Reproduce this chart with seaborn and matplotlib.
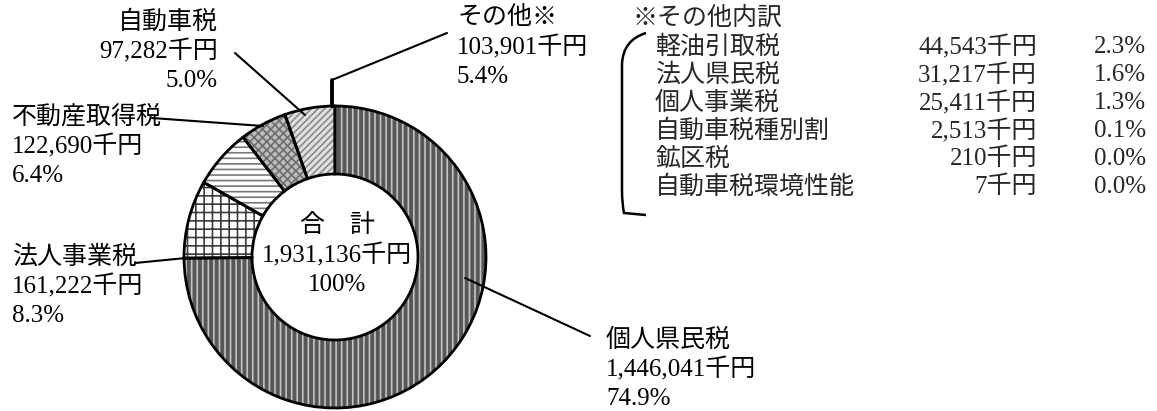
import matplotlib
matplotlib.use("Agg")
import matplotlib.pyplot as plt
from matplotlib.patches import Rectangle, PathPatch
from matplotlib.path import Path
import seaborn as sns

# --- data ---
tax_names = ["個人県民税", "法人事業税", "不動産取得税", "自動車税", "その他※"]
tax_amounts = [1446041, 161222, 122690, 97282, 103901]
tax_amount_labels = ["1,446,041千円", "161,222千円", "122,690千円", "97,282千円", "103,901千円"]
tax_pct_labels = ["74.9%", "8.3%", "6.4%", "5.0%", "5.4%"]

total_label = ["合\u3000計", "1,931,136千円", "100%"]

other_title = "※その他内訳"
other_names = ["軽油引取税", "法人県民税", "個人事業税", "自動車税種別割", "鉱区税", "自動車税環境性能割"]
other_amounts = ["44,543千円", "31,217千円", "25,411千円", "2,513千円", "210千円", "7千円"]
other_pcts = ["2.3%", "1.6%", "1.3%", "0.1%", "0.0%", "0.0%"]

# --- style ---
sns.set_theme(style="white")
plt.rcParams["font.family"] = ["Liberation Serif", "Noto Sans CJK JP"]
plt.rcParams["hatch.linewidth"] = 1.2

W, H = 1157, 411
FS = 18
LINE = 29.5


def Y(y):
    # pixel row (from top) -> data y
    return H - y


fig = plt.figure(figsize=(W / 100, H / 100), dpi=100)
ax = fig.add_axes([0, 0, 1, 1])

cx, cy, R, r_in = 335, 257, 151, 83

faces = ["#585858", "white", "white", "#bdbdbd", "#e0e0e0"]
hatch_cols = ["#c4c4c4", "#3c3c3c", "#787878", "#6e6e6e", "#8a8a8a"]
hatches = ["|||", "++", "---", "xxxx", "/////"]

wedges, _ = ax.pie(tax_amounts, startangle=90, counterclock=False,
                   center=(cx, Y(cy)), radius=R, frame=True,
                   wedgeprops=dict(width=R - r_in, linewidth=0))
for w, fc, hc, h in zip(wedges, faces, hatch_cols, hatches):
    w.set_facecolor(fc)
    w.set_edgecolor(hc)
    w.set_hatch(h)

# outlines on top
ax.pie(tax_amounts, startangle=90, counterclock=False,
       center=(cx, Y(cy)), radius=R, frame=True,
       wedgeprops=dict(width=R - r_in, fill=False, edgecolor="black", linewidth=2))

ax.set_xlim(0, W)
ax.set_ylim(0, H)
ax.set_aspect("auto")
ax.axis("off")

# --- slice labels ---
def block(x, y0, lines, ha="left"):
    for i, s in enumerate(lines):
        ax.text(x, Y(y0 + i * LINE), s, fontsize=FS, ha=ha, va="center", color="black")

label_pos = {
    "個人県民税": (606, 340, "left"),
    "法人事業税": (12, 257, "left"),
    "不動産取得税": (12, 117, "left"),
    "自動車税": (218, 22, "right"),
    "その他※": (457, 18, "left"),
}
for n, a, p in zip(tax_names, tax_amount_labels, tax_pct_labels):
    x, y0, ha = label_pos[n]
    block(x, y0, [n, a, p], ha)

block(337, 226, total_label, "center")

# leader lines (as drawn in the source chart)
leaders = [
    [(590, 336), (465, 278)],
    [(135, 263), (186, 258)],
    [(152, 118), (263, 126)],
    [(235, 53), (305, 115)],
    [(447, 33), (332, 80)],
]
for seg in leaders:
    ax.plot([p[0] for p in seg], [Y(p[1]) for p in seg], color="black", lw=1.5)
ax.plot([332, 332], [Y(80), Y(106)], color="black", lw=2.8)

# --- breakdown of "その他" ---
ax.text(632, Y(18), other_title, fontsize=FS, ha="left", va="center")
row_y = [47, 75, 103, 131, 159, 187]
for yy, n, a, p in zip(row_y, other_names, other_amounts, other_pcts):
    t = ax.text(655, Y(yy), n, fontsize=FS, ha="left", va="center")
    # the last name is cut off in the source table
    t.set_clip_path(Rectangle((640, 0), 855 - 640, H, transform=ax.transData))
    t.set_clip_on(True)
    ax.text(1037, Y(yy), a, fontsize=FS, ha="right", va="center")
    ax.text(1146, Y(yy), p, fontsize=FS, ha="right", va="center")

# bracket
verts = [(646, Y(33)), (623, Y(40)), (622, Y(64)), (622, Y(80)),
         (622, Y(190)),
         (622, Y(204)), (624, Y(213)), (646, Y(215))]
codes = [Path.MOVETO, Path.CURVE3, Path.CURVE3, Path.LINETO,
         Path.LINETO, Path.CURVE3, Path.CURVE3, Path.LINETO]
ax.add_patch(PathPatch(Path(verts, codes), fill=False, edgecolor="black", lw=1.8))

fig.savefig("out.png", dpi=100)
